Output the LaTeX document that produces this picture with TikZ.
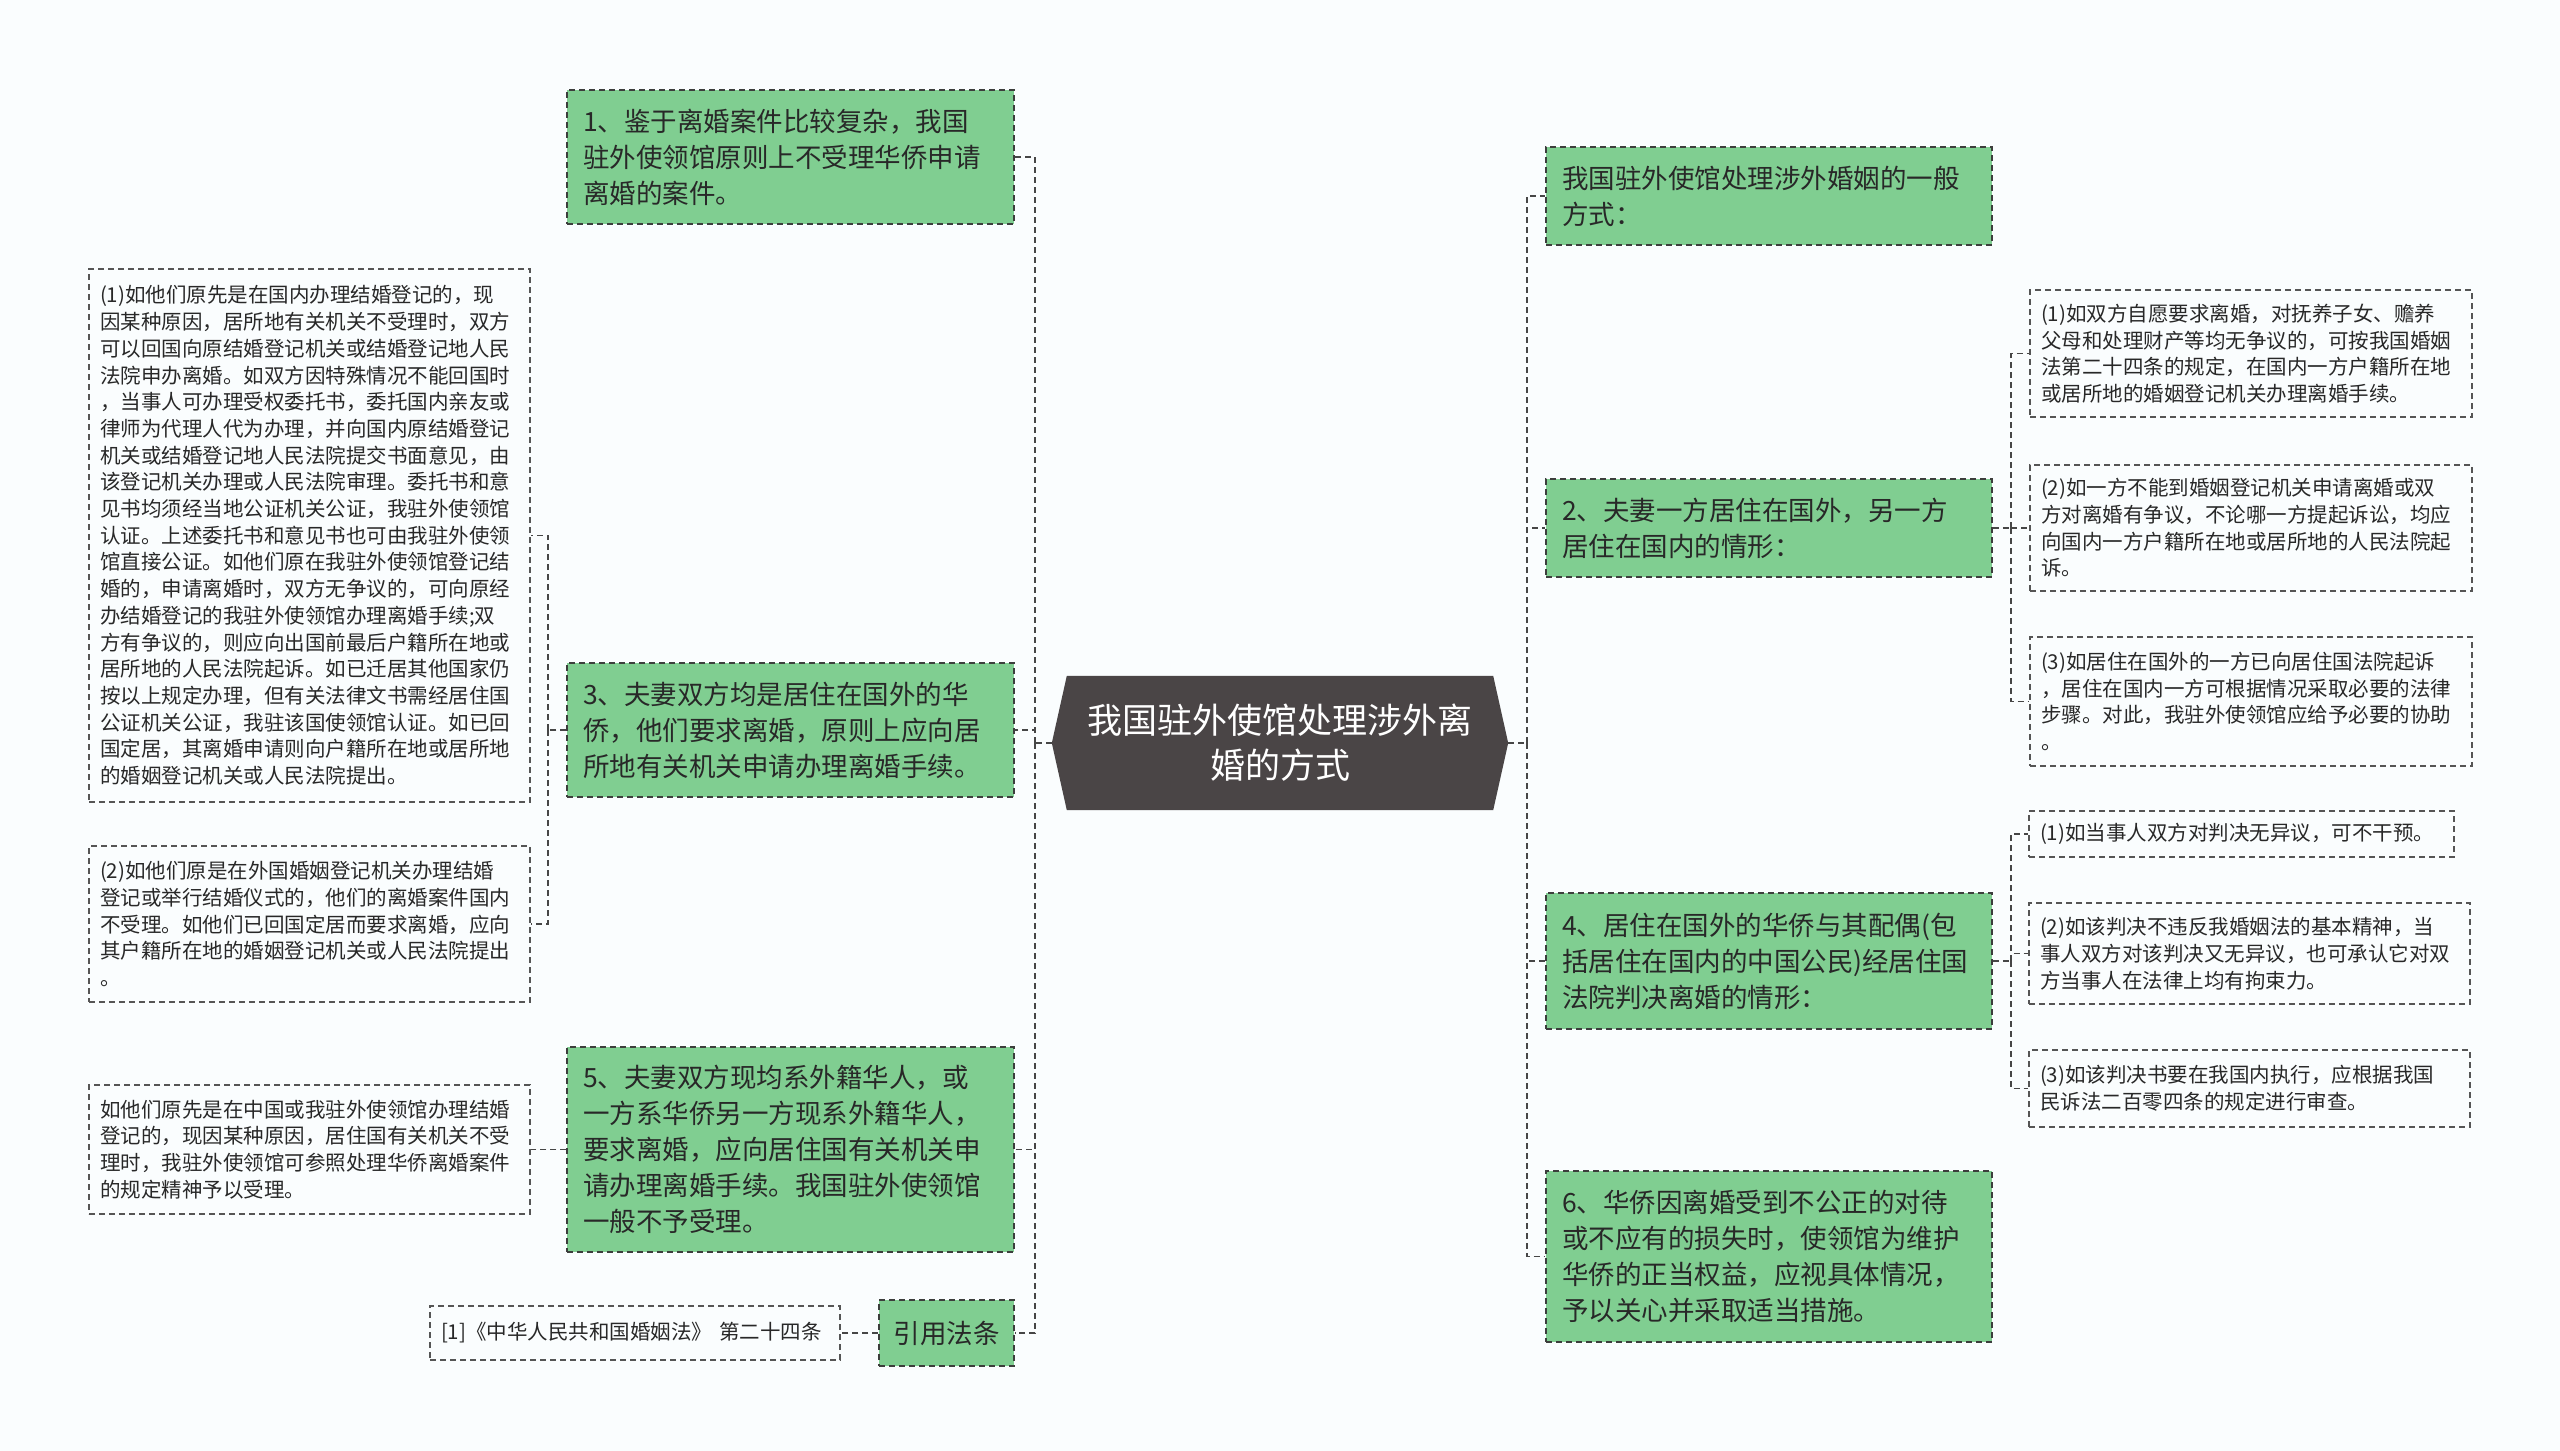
\documentclass[tikz,border=0pt]{standalone}
\usepackage{fontspec}
\setmainfont{Noto Sans CJK SC}
\definecolor{bgc}{RGB}{250,253,254}
\definecolor{gfill}{RGB}{128,206,145}
\definecolor{gborder}{RGB}{60,62,60}
\definecolor{lborder}{RGB}{85,85,85}
\definecolor{txt}{RGB}{40,40,40}
\definecolor{rootc}{RGB}{74,69,70}
\definecolor{connc}{RGB}{70,70,70}
\pgfdeclarelayer{back}
\pgfdeclarelayer{bgl}
\pgfsetlayers{back,bgl,main}
\begin{document}
\begin{tikzpicture}[x=1pt,y=-1pt,
  green/.style={draw=gborder, fill=gfill, dash pattern=on 6pt off 4pt, line width=1.5pt,
    text=txt, align=left, inner xsep=16pt, inner ysep=0pt, text width=415pt,
    font=\fontsize{26.5}{36}\selectfont},
  leaf/.style={draw=lborder, fill=bgc, dash pattern=on 6pt off 4pt, line width=1.4pt,
    text=txt, align=left, inner xsep=11pt, inner ysep=0pt, text width=419pt,
    font=\fontsize{20.5}{26.7}\selectfont},
  conn/.style={draw=connc, dash pattern=on 6pt off 4pt, line width=1.6pt}]
\begin{pgfonlayer}{back}
\fill[bgc] (0,0) rectangle (2560,1451);
\end{pgfonlayer}
\useasboundingbox (0,0) rectangle (2560,1451);

% root
\node[minimum width=456pt, minimum height=134pt, inner sep=0pt, align=center, text=white,
  font=\fontsize{35}{45}\selectfont] (root) at (1280,743) {我国驻外使馆处理涉外离\\婚的方式};
\begin{pgfonlayer}{bgl}
\fill[rootc] (root.west) -- ([xshift=15pt]root.north west) -- ([xshift=-15pt]root.north east)
  -- (root.east) -- ([xshift=-15pt]root.south east) -- ([xshift=15pt]root.south west) -- cycle;
\end{pgfonlayer}

% left green nodes
\node[green, minimum height=134pt] (n1) at (790.5,157) {1、鉴于离婚案件比较复杂，我国\\驻外使领馆原则上不受理华侨申请\\离婚的案件。};
\node[green, minimum height=134pt] (n3) at (790.5,730) {3、夫妻双方均是居住在国外的华\\侨，他们要求离婚，原则上应向居\\所地有关机关申请办理离婚手续。};
\node[green, minimum height=205pt] (n5) at (790.5,1149.5) {5、夫妻双方现均系外籍华人，或\\一方系华侨另一方现系外籍华人，\\要求离婚，应向居住国有关机关申\\请办理离婚手续。我国驻外使领馆\\一般不予受理。};
\node[green, minimum height=66pt, text width=111pt, inner xsep=12pt, align=center] (law) at (946.5,1333) {引用法条};

% right green nodes
\node[green, minimum height=98pt, text width=414pt] (nA) at (1769,196) {我国驻外使馆处理涉外婚姻的一般\\方式：};
\node[green, minimum height=98pt, text width=414pt] (n2) at (1769,528) {2、夫妻一方居住在国外，另一方\\居住在国内的情形：};
\node[green, minimum height=136pt, text width=414pt] (n4) at (1769,961) {4、居住在国外的华侨与其配偶(包\\括居住在国内的中国公民)经居住国\\法院判决离婚的情形：};
\node[green, minimum height=171pt, text width=414pt] (n6) at (1769,1256.5) {6、华侨因离婚受到不公正的对待\\或不应有的损失时，使领馆为维护\\华侨的正当权益，应视具体情况，\\予以关心并采取适当措施。};

% left leaves
\node[leaf, minimum height=533pt] (l1) at (309.5,535.5) {(1)如他们原先是在国内办理结婚登记的，现\\因某种原因，居所地有关机关不受理时，双方\\可以回国向原结婚登记机关或结婚登记地人民\\法院申办离婚。如双方因特殊情况不能回国时\\，当事人可办理受权委托书，委托国内亲友或\\律师为代理人代为办理，并向国内原结婚登记\\机关或结婚登记地人民法院提交书面意见，由\\该登记机关办理或人民法院审理。委托书和意\\见书均须经当地公证机关公证，我驻外使领馆\\认证。上述委托书和意见书也可由我驻外使领\\馆直接公证。如他们原在我驻外使领馆登记结\\婚的，申请离婚时，双方无争议的，可向原经\\办结婚登记的我驻外使领馆办理离婚手续;双\\方有争议的，则应向出国前最后户籍所在地或\\居所地的人民法院起诉。如已迁居其他国家仍\\按以上规定办理，但有关法律文书需经居住国\\公证机关公证，我驻该国使领馆认证。如已回\\国定居，其离婚申请则向户籍所在地或居所地\\的婚姻登记机关或人民法院提出。};
\node[leaf, minimum height=156pt] (l2) at (309.5,924) {(2)如他们原是在外国婚姻登记机关办理结婚\\登记或举行结婚仪式的，他们的离婚案件国内\\不受理。如他们已回国定居而要求离婚，应向\\其户籍所在地的婚姻登记机关或人民法院提出\\。};
\node[leaf, minimum height=129pt] (l5) at (309.5,1149.5) {如他们原先是在中国或我驻外使领馆办理结婚\\登记的，现因某种原因，居住国有关机关不受\\理时，我驻外使领馆可参照处理华侨离婚案件\\的规定精神予以受理。};
\node[leaf, minimum height=54pt, text width=388pt] (lawleaf) at (635,1333) {[1]《中华人民共和国婚姻法》 第二十四条};

% right leaves
\node[leaf, minimum height=127pt, text width=420pt] (r21) at (2251,353.5) {(1)如双方自愿要求离婚，对抚养子女、赡养\\父母和处理财产等均无争议的，可按我国婚姻\\法第二十四条的规定，在国内一方户籍所在地\\或居所地的婚姻登记机关办理离婚手续。};
\node[leaf, minimum height=126pt, text width=420pt] (r22) at (2251,528) {(2)如一方不能到婚姻登记机关申请离婚或双\\方对离婚有争议，不论哪一方提起诉讼，均应\\向国内一方户籍所在地或居所地的人民法院起\\诉。};
\node[leaf, minimum height=129pt, text width=420pt] (r23) at (2251,701.5) {(3)如居住在国外的一方已向居住国法院起诉\\，居住在国内一方可根据情况采取必要的法律\\步骤。对此，我驻外使领馆应给予必要的协助\\。};
\node[leaf, minimum height=46pt, text width=403pt] (r41) at (2241.5,834) {(1)如当事人双方对判决无异议，可不干预。};
\node[leaf, minimum height=101pt, text width=419pt] (r42) at (2249.5,953.5) {(2)如该判决不违反我婚姻法的基本精神，当\\事人双方对该判决又无异议，也可承认它对双\\方当事人在法律上均有拘束力。};
\node[leaf, minimum height=77pt, text width=419pt] (r43) at (2249.5,1088.5) {(3)如该判决书要在我国内执行，应根据我国\\民诉法二百零四条的规定进行审查。};

% connectors
\begin{pgfonlayer}{bgl}
\coordinate (lt) at (1035,743);
\draw[conn] (root.west) -- (lt);
\foreach \n in {n1,n3,n5,law} {\draw[conn] (lt) |- (\n.east);}
\coordinate (rt) at (1527,743);
\draw[conn] (root.east) -- (rt);
\foreach \n in {nA,n2,n4,n6} {\draw[conn] (rt) |- (\n.west);}
\coordinate (t3) at (548,730);
\draw[conn] (n3.west) -- (t3);
\foreach \n in {l1,l2} {\draw[conn] (t3) |- (\n.east);}
\draw[conn] (n5.west) -- (l5.east);
\draw[conn] (law.west) -- (lawleaf.east);
\coordinate (t2) at (2011,528);
\draw[conn] (n2.east) -- (t2);
\foreach \n in {r21,r22,r23} {\draw[conn] (t2) |- (\n.west);}
\coordinate (t4) at (2011,961);
\draw[conn] (n4.east) -- (t4);
\foreach \n in {r41,r42,r43} {\draw[conn] (t4) |- (\n.west);}
\end{pgfonlayer}
\end{tikzpicture}
\end{document}
